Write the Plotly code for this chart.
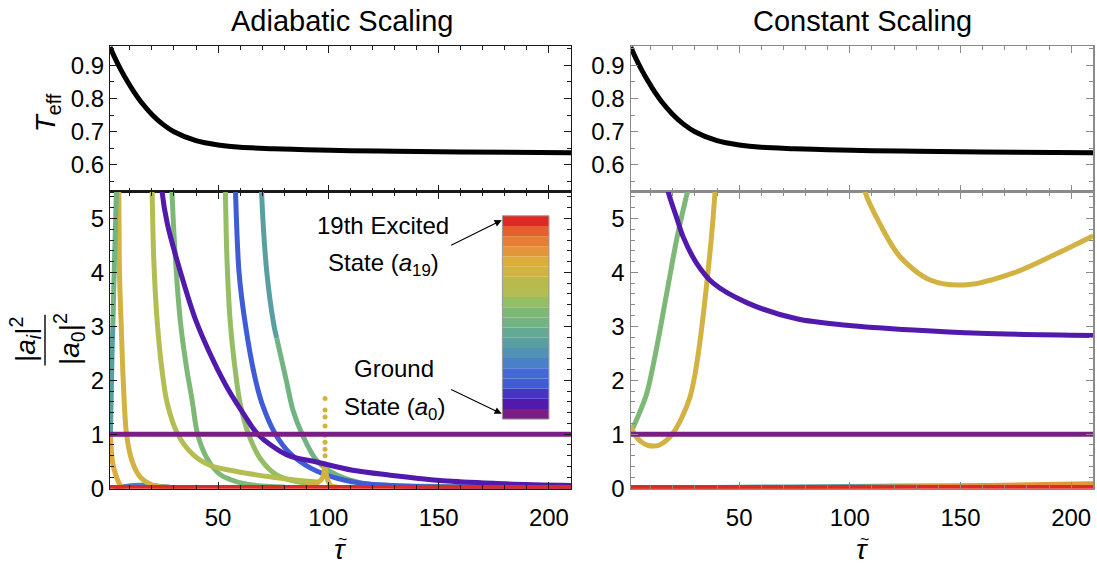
import plotly.graph_objects as go

W, H = 1097, 572
FONT = "Liberation Sans, Arial, Helvetica, sans-serif"

# ---------------- colours of the 20 states (a0 ... a19) ----------------
STATE_COLORS = [
    "#7C1D86", "#5219AD", "#4535C2", "#3F5BD5", "#4269D4",
    "#4A80C8", "#5292B4", "#599FA2", "#64A993", "#72B382",
    "#7DB877", "#95BD63", "#B3BD52", "#BABA4C", "#D2B240",
    "#DDAD3C", "#E3953A", "#E67E35", "#E4612F", "#DD2A25",
]

# ---------------- T_eff (same in both panels) ----------------
TEFF_TAU = [1, 3, 6, 9, 12, 15, 20, 25, 30, 40, 50, 60, 75, 90, 110, 130, 160, 210]
TEFF_VAL = [0.955, 0.925, 0.885, 0.850, 0.818, 0.790, 0.752, 0.722, 0.700, 0.673,
            0.660, 0.653, 0.649, 0.646, 0.643, 0.641, 0.639, 0.637]

# ---------------- Adiabatic scaling curves ----------------
AD_GROUND_TAU = [1, 210]
AD_GROUND_VAL = [1, 1]
AD_TOP_TAU = [1, 210]
AD_TOP_VAL = [0, 0]

AD_A1_TAU = [24.0, 24.6, 27, 33, 40, 48, 55, 62, 68, 81, 95, 111, 128, 154, 180, 210]
AD_A1_VAL = [6.0, 5.5, 4.9, 4.0, 3.1, 2.35, 1.8, 1.35, 1.0, 0.62, 0.48, 0.33, 0.24, 0.13, 0.08, 0.05]

AD_TEAL_UP_TAU = [1.2, 1.5, 2.0, 2.3]
AD_TEAL_UP_VAL = [1.0, 1.6, 2.6, 3.0]
AD_GREEN_UP_TAU = [2.3, 2.7, 3.3, 3.9, 4.1]
AD_GREEN_UP_VAL = [3.0, 3.7, 4.6, 5.5, 5.8]

AD_ORANGE_TAU = [1.2, 1.6, 2.3, 3.5, 5.7, 8]
AD_ORANGE_VAL = [1.0, 0.7, 0.45, 0.26, 0.05, 0.0]

AD_Y1_TAU = [4.8, 5.0, 5.3, 6.1, 7.0, 8.5, 11.0, 14.8, 20.7, 28, 40]
AD_Y1_VAL = [6.0, 5.5, 4.0, 3.0, 2.0, 1.0, 0.5, 0.2, 0.05, 0.01, 0.0]

AD_Y2_TAU = [19.8, 20.1, 20.8, 22.4, 24.6, 26.9, 31.7, 38.9, 46.5, 55.5, 65, 75, 85, 96]
AD_Y2_VAL = [6.0, 5.5, 4.29, 3.09, 2.18, 1.58, 1.0, 0.61, 0.42, 0.33, 0.26, 0.2, 0.15, 0.11]

AD_G2_TAU = [28.8, 29.1, 30.6, 32.9, 35.9, 38.2, 40.7, 45.0, 51.0, 55.5, 62, 70, 80]
AD_G2_VAL = [6.0, 5.5, 4.29, 3.09, 2.18, 1.64, 1.0, 0.55, 0.25, 0.16, 0.08, 0.04, 0.02]

AD_Y3_TAU = [53.0, 53.3, 54.0, 55.5, 57.8, 60.0, 63.8, 69.1, 76.7, 85.7, 95]
AD_Y3_VAL = [6.0, 5.5, 4.29, 3.09, 2.18, 1.57, 1.0, 0.55, 0.24, 0.12, 0.08]

AD_BLUE_TAU = [57.6, 57.9, 59.5, 62.5, 67.0, 70.5, 76.0, 82.5, 92.0, 104.0, 119.0, 140, 170, 210]
AD_BLUE_VAL = [6.0, 5.5, 4.0, 3.0, 2.0, 1.5, 1.0, 0.65, 0.37, 0.18, 0.07, 0.03, 0.02, 0.01]

AD_TEAL_TAU = [69.4, 69.7, 72.1, 75.4, 76.6]
AD_TEAL_VAL = [6.0, 5.5, 4.0, 3.0, 2.78]
AD_GREEN_TAU = [76.6, 80.9, 84.0, 88.1, 94, 100.8, 114.3, 128, 150, 180, 210]
AD_GREEN_VAL = [2.78, 2.0, 1.44, 1.0, 0.55, 0.31, 0.10, 0.05, 0.03, 0.02, 0.01]

AD_BUMP_TAU = [3, 8, 15, 22, 30, 36]
AD_BUMP_VAL = [0.0, 0.04, 0.06, 0.05, 0.02, 0.0]

AD_SPIKE_TAU = [90, 95, 97.5, 98.5, 99.3, 101, 104]
AD_SPIKE_VAL = [0.09, 0.1, 0.2, 0.45, 0.2, 0.05, 0.02]
AD_DOTS_TAU = [98.5, 98.5, 98.5, 98.5, 98.5, 98.5, 98.5, 98.5]
AD_DOTS_VAL = [1.66, 1.45, 1.32, 1.15, 0.98, 0.85, 0.72, 0.6]

# ---------------- Constant scaling curves ----------------
CS_GROUND_TAU = [1, 210]
CS_GROUND_VAL = [1, 1]
CS_TOP_TAU = [1, 210]
CS_TOP_VAL = [0, 0]

CS_GREEN_TAU = [1.2, 4, 8.2, 12.7, 17.3, 21.8, 25.5, 28.5]
CS_GREEN_VAL = [1.05, 1.3, 1.75, 2.6, 3.62, 4.62, 5.3, 5.8]

CS_ORANGE1_TAU = [1.2, 3, 6, 9, 11.2, 14, 17, 20.3, 24, 27.8, 30, 32.3, 35.4, 37.6, 39.1, 39.6]
CS_ORANGE1_VAL = [1.15, 0.98, 0.85, 0.79, 0.78, 0.8, 0.88, 1.03, 1.3, 1.69, 2.1, 2.72, 3.81, 4.71, 5.49, 5.8]

CS_ORANGE2_TAU = [106, 106.9, 113.7, 122.7, 136.3, 152.9, 174, 193.6, 210]
CS_ORANGE2_VAL = [5.7, 5.49, 4.89, 4.29, 3.86, 3.77, 3.99, 4.35, 4.68]

CS_A1_TAU = [17.2, 18, 21.8, 24.8, 30.8, 38.3, 53.4, 76, 98.6, 128.8, 158.9, 210]
CS_A1_VAL = [5.7, 5.49, 5.01, 4.65, 4.17, 3.80, 3.44, 3.14, 3.02, 2.93, 2.87, 2.83]

CS_TEAL_LOW_TAU = [1, 40, 100, 150, 210]
CS_TEAL_LOW_VAL = [0.0, 0.02, 0.04, 0.05, 0.05]
CS_ORANGE_LOW_TAU = [1, 100, 150, 210]
CS_ORANGE_LOW_VAL = [0.0, 0.02, 0.05, 0.09]

X_TICKS = [50, 100, 150, 200]

# ---------------- layout geometry (pixels) ----------------
def fx(x):
    return x / W


def fy(y):
    return 1 - y / H


XL = [fx(110), fx(571)]
XR = [fx(630.7), fx(1093.3)]
YT = [fy(196), fy(47.3)]
YB = [fy(500), fy(196)]

fig = go.Figure()


def add_line(tau, val, idx, xa, ya, width=5, color=None):
    fig.add_trace(go.Scatter(
        x=tau, y=val, xaxis=xa, yaxis=ya, mode="lines",
        line=dict(color=color or STATE_COLORS[idx], width=width, shape="spline", smoothing=0.9),
        hoverinfo="skip", showlegend=False))


# top panels
add_line(TEFF_TAU, TEFF_VAL, 0, "x", "y", width=5, color="black")
add_line(TEFF_TAU, TEFF_VAL, 0, "x2", "y2", width=5, color="black")

# adiabatic (bottom-left)
add_line(AD_BUMP_TAU, AD_BUMP_VAL, 5, "x3", "y3", width=4)
add_line(AD_GREEN_TAU, AD_GREEN_VAL, 9, "x3", "y3")
add_line(AD_TEAL_TAU, AD_TEAL_VAL, 7, "x3", "y3")
add_line(AD_BLUE_TAU, AD_BLUE_VAL, 3, "x3", "y3")
add_line(AD_G2_TAU, AD_G2_VAL, 10, "x3", "y3")
add_line(AD_Y3_TAU, AD_Y3_VAL, 11, "x3", "y3")
add_line(AD_Y2_TAU, AD_Y2_VAL, 12, "x3", "y3")
add_line(AD_Y1_TAU, AD_Y1_VAL, 14, "x3", "y3")
add_line(AD_ORANGE_TAU, AD_ORANGE_VAL, 15, "x3", "y3")
add_line(AD_TEAL_UP_TAU, AD_TEAL_UP_VAL, 7, "x3", "y3")
add_line(AD_GREEN_UP_TAU, AD_GREEN_UP_VAL, 9, "x3", "y3")
add_line(AD_SPIKE_TAU, AD_SPIKE_VAL, 14, "x3", "y3")
fig.add_trace(go.Scatter(x=AD_DOTS_TAU, y=AD_DOTS_VAL, xaxis="x3", yaxis="y3", mode="markers",
                         marker=dict(color=STATE_COLORS[14], size=5), hoverinfo="skip", showlegend=False))
add_line(AD_A1_TAU, AD_A1_VAL, 1, "x3", "y3")
add_line(AD_GROUND_TAU, AD_GROUND_VAL, 0, "x3", "y3", width=5)
add_line(AD_TOP_TAU, AD_TOP_VAL, 19, "x3", "y3", width=6)

# constant (bottom-right)
add_line(CS_TEAL_LOW_TAU, CS_TEAL_LOW_VAL, 7, "x4", "y4", width=4)
add_line(CS_ORANGE_LOW_TAU, CS_ORANGE_LOW_VAL, 16, "x4", "y4", width=4)
add_line(CS_GREEN_TAU, CS_GREEN_VAL, 10, "x4", "y4")
add_line(CS_ORANGE1_TAU, CS_ORANGE1_VAL, 14, "x4", "y4")
add_line(CS_ORANGE2_TAU, CS_ORANGE2_VAL, 14, "x4", "y4")
add_line(CS_A1_TAU, CS_A1_VAL, 1, "x4", "y4")
add_line(CS_GROUND_TAU, CS_GROUND_VAL, 0, "x4", "y4", width=5)
add_line(CS_TOP_TAU, CS_TOP_VAL, 19, "x4", "y4", width=6)

tickfont = dict(family=FONT, size=24, color="black")


def axis(domain, anchor, rng, frame, dtick, minor_dtick, labels=True, tickvals=None, fmt=None,
         standoff=None):
    d = dict(domain=domain, anchor=anchor, range=rng, showline=True, linecolor=frame,
             linewidth=1.2, mirror="ticks", ticks="inside", ticklen=7, tickwidth=1,
             tickcolor=frame, showgrid=False, zeroline=False, showticklabels=labels,
             tickfont=tickfont, minor=dict(ticks="inside", ticklen=4, tickcolor=frame,
                                           dtick=minor_dtick, tick0=0, showgrid=False))
    if tickvals is not None:
        d["tickvals"] = tickvals
    else:
        d["dtick"] = dtick
        d["tick0"] = 0
    if fmt:
        d["tickformat"] = fmt
    if standoff is not None:
        d["ticklabelstandoff"] = standoff
    return d


LEFT_FRAME = "#1a1a1a"
RIGHT_FRAME = "#8a8a8a"
XR_RANGE = [1, 210]

fig.update_layout(
    width=W, height=H, margin=dict(l=0, r=0, t=0, b=0),
    paper_bgcolor="white", plot_bgcolor="white", showlegend=False,
    font=dict(family=FONT, color="black"),
    xaxis=axis(XL, "y", XR_RANGE, LEFT_FRAME, None, 10, labels=False, tickvals=X_TICKS),
    yaxis=axis(YT, "x", [0.52, 0.957], LEFT_FRAME, 0.1, 0.05, fmt=".1f"),
    xaxis2=axis(XR, "y2", XR_RANGE, RIGHT_FRAME, None, 10, labels=False, tickvals=X_TICKS),
    yaxis2=axis(YT, "x2", [0.52, 0.957], RIGHT_FRAME, 0.1, 0.05, fmt=".1f"),
    xaxis3=axis(XL, "y3", XR_RANGE, LEFT_FRAME, None, 10, tickvals=X_TICKS, standoff=7),
    yaxis3=axis(YB, "x3", [-0.01, 5.5], LEFT_FRAME, 1, 0.2),
    xaxis4=axis(XR, "y4", XR_RANGE, RIGHT_FRAME, None, 10, tickvals=X_TICKS, standoff=7),
    yaxis4=axis(YB, "x4", [-0.01, 5.5], RIGHT_FRAME, 1, 0.2),
)

# ---------------- colour bar legend ----------------
CB_X0, CB_X1 = 178.9, 200.0
CB_Y0, CB_Y1 = 1.28, 5.05
band = (CB_Y1 - CB_Y0) / len(STATE_COLORS)
shapes = []
for i, c in enumerate(STATE_COLORS):
    shapes.append(dict(type="rect", xref="x3", yref="y3", x0=CB_X0, x1=CB_X1,
                       y0=CB_Y0 + i * band, y1=CB_Y0 + (i + 1) * band,
                       fillcolor=c, line=dict(width=0), layer="above"))
shapes.append(dict(type="rect", xref="x3", yref="y3", x0=CB_X0, x1=CB_X1, y0=CB_Y0, y1=CB_Y1,
                   line=dict(color="#999999", width=1), layer="above"))
# fraction bar of the y-axis label
shapes.append(dict(type="line", xref="paper", yref="paper", x0=fx(45), x1=fx(45),
                   y0=fy(322), y1=fy(374), line=dict(color="black", width=1.4)))

ann = []


def text(x, y, s, size=24, angle=0, xanchor="center"):
    ann.append(dict(x=fx(x), y=fy(y), xref="paper", yref="paper", text=s, showarrow=False,
                    font=dict(family=FONT, size=size, color="black"), textangle=angle,
                    xanchor=xanchor, yanchor="middle"))


text(342, 21, "Adiabatic Scaling", size=29)
text(862, 21, "Constant Scaling", size=29)
for cx in (340, 862):
    text(cx, 562, "<i>τ</i>", size=28)
    text(cx + 2, 552, "~", size=16)
text(47, 116, "<i>T</i><sub>eff</sub>", size=28, angle=-90)
text(25, 348, "|<i>a<sub>i</sub></i>|<sup>2</sup>", size=28, angle=-90)
text(69, 347, "|<i>a</i><sub>0</sub>|<sup>2</sup>", size=28, angle=-90)

text(383, 231, "19th Excited", size=24)
text(383, 271, "State (<i>a</i><sub>19</sub>)", size=24)
text(394, 377, "Ground", size=24)
text(394, 418, "State (<i>a</i><sub>0</sub>)", size=24)

for (tx, ty, hx, hy) in [(155, 4.49, 178.6, 4.97), (155, 1.84, 178.6, 1.38)]:
    ann.append(dict(x=hx, y=hy, xref="x3", yref="y3", ax=tx, ay=ty, axref="x3", ayref="y3",
                    text="", showarrow=True, arrowhead=2, arrowsize=1.3, arrowwidth=1.1,
                    arrowcolor="black"))

fig.update_layout(shapes=shapes, annotations=ann)
fig.write_html(
    "out.html",
    config={"displayModeBar": False, "staticPlot": True},
    post_script="document.body.style.margin='0px';document.documentElement.style.overflow='hidden';",
)
